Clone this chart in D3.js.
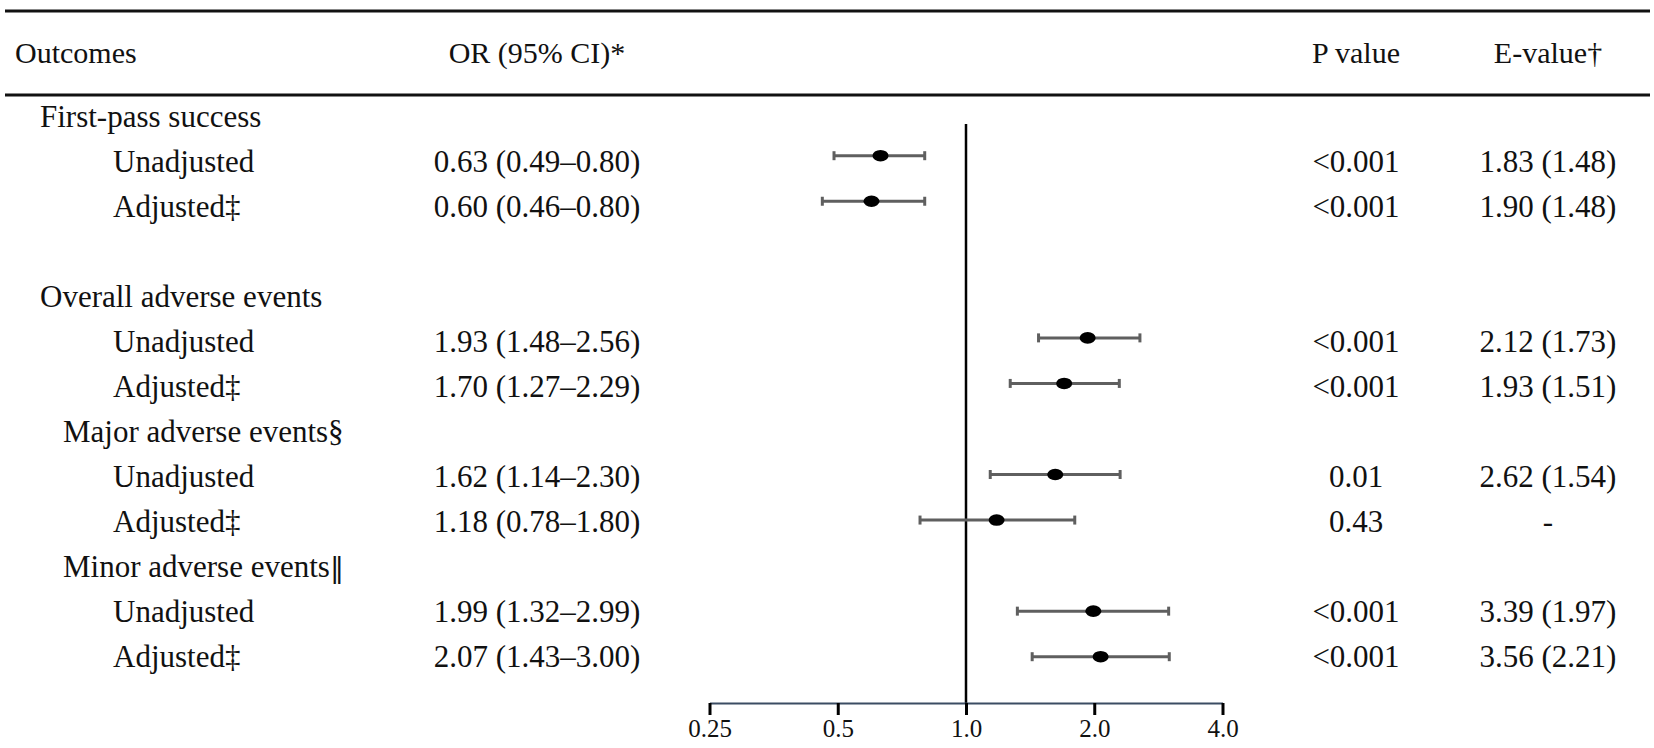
<!DOCTYPE html>
<html>
<head>
<meta charset="utf-8">
<script src="https://cdn.jsdelivr.net/npm/d3@7/dist/d3.min.js"></script>
<style>
  html, body { margin: 0; padding: 0; background: #fff; }
  svg text { font-family: 'Liberation Serif', 'Times New Roman', 'DejaVu Serif', serif; fill: #111; }
</style>
</head>
<body>
<div id="chart"></div>
<script>
// row labels, top to bottom (blank row between the two groups)
var rowLabels = ['First-pass success', 'Unadjusted', 'Adjusted\u2021', '',
  'Overall adverse events', 'Unadjusted', 'Adjusted\u2021',
  'Major adverse events\u00a7', 'Unadjusted', 'Adjusted\u2021',
  'Minor adverse events\u2016', 'Unadjusted', 'Adjusted\u2021'];
var rowLevels = [0, 2, 2, 0, 0, 2, 2, 1, 2, 2, 1, 2, 2];

// rows that carry an estimate
var estRows = [1, 2, 5, 6, 8, 9, 11, 12];
var orValues = [0.63, 0.60, 1.93, 1.70, 1.62, 1.18, 1.99, 2.07];
var ciLow = [0.49, 0.46, 1.48, 1.27, 1.14, 0.78, 1.32, 1.43];
var ciHigh = [0.80, 0.80, 2.56, 2.29, 2.30, 1.80, 2.99, 3.00];
var pValues = ['<0.001', '<0.001', '<0.001', '<0.001', '0.01', '0.43', '<0.001', '<0.001'];
var eValues = ['1.83 (1.48)', '1.90 (1.48)', '2.12 (1.73)', '1.93 (1.51)',
  '2.62 (1.54)', '-', '3.39 (1.97)', '3.56 (2.21)'];

var headers = ['Outcomes', 'OR (95% CI)*', 'P value', 'E-value\u2020'];
var tickValues = [0.25, 0.5, 1, 2, 4];
var tickLabels = ['0.25', '0.5', '1.0', '2.0', '4.0'];

var W = 1654, H = 748;
var fontSize = 31;
var indentX = [40, 63, 113];
var orColX = 537, pColX = 1356, eColX = 1548;

var svg = d3.select('#chart').append('svg')
  .attr('width', W)
  .attr('height', H);

// text rows and plotted rows sit on slightly different vertical scales
var textY = d3.scaleLinear().domain([0, 12]).range([126.7, 666.7]);
var plotY = d3.scaleLinear().domain([1, 12]).range([155.7, 656.7]);
var x = d3.scaleLog().base(2).domain([0.25, 4]).range([709.5, 1222.5]);
var axisY = 703;

/* rules */
svg.append('line')
  .attr('x1', 5).attr('x2', 1650)
  .attr('y1', 11).attr('y2', 11)
  .style('stroke', '#111').style('stroke-width', 3);
svg.append('line')
  .attr('x1', 5).attr('x2', 1650)
  .attr('y1', 95).attr('y2', 95)
  .style('stroke', '#111').style('stroke-width', 3);

/* header */
var headerX = [15, orColX, pColX, eColX];
var headerAnchor = ['start', 'middle', 'middle', 'middle'];
svg.selectAll('text.header')
  .data(headers)
  .enter().append('text')
  .attr('class', 'header')
  .attr('x', function(d, i) { return headerX[i]; })
  .attr('y', 63)
  .attr('text-anchor', function(d, i) { return headerAnchor[i]; })
  .attr('font-size', fontSize - 1)
  .text(function(d) { return d; });

/* row labels - the double bar mark has no glyph in the serif font, so it gets its own tspan */
svg.selectAll('text.label')
  .data(rowLabels)
  .enter().append('text')
  .attr('class', 'label')
  .attr('x', function(d, i) { return indentX[rowLevels[i]]; })
  .attr('y', function(d, i) { return textY(i); })
  .attr('font-size', fontSize)
  .each(function(d) {
    var t = d3.select(this);
    var k = d.indexOf('\u2016');
    if (k < 0) {
      t.text(d);
      return;
    }
    t.append('tspan').text(d.slice(0, k));
    t.append('tspan')
      .style('font-family', "'DejaVu Serif', serif")
      .attr('font-size', fontSize - 3)
      .text('\u2016');
  });

/* value columns */
var fmt = d3.format('.2f');
var est = estRows.map(function(r, i) {
  return { row: r, or: orValues[i], lo: ciLow[i], hi: ciHigh[i], p: pValues[i], e: eValues[i] };
});

svg.selectAll('text.or')
  .data(est)
  .enter().append('text')
  .attr('class', 'or')
  .attr('x', orColX)
  .attr('y', function(d) { return textY(d.row); })
  .attr('text-anchor', 'middle')
  .attr('font-size', fontSize)
  .text(function(d) { return fmt(d.or) + ' (' + fmt(d.lo) + '\u2013' + fmt(d.hi) + ')'; });

svg.selectAll('text.p')
  .data(est)
  .enter().append('text')
  .attr('class', 'p')
  .attr('x', pColX)
  .attr('y', function(d) { return textY(d.row); })
  .attr('text-anchor', 'middle')
  .attr('font-size', fontSize)
  .text(function(d) { return d.p; });

svg.selectAll('text.e')
  .data(est)
  .enter().append('text')
  .attr('class', 'e')
  .attr('x', eColX)
  .attr('y', function(d) { return textY(d.row); })
  .attr('text-anchor', 'middle')
  .attr('font-size', fontSize)
  .text(function(d) { return d.e; });

/* forest plot */
svg.append('line')
  .attr('x1', x(1)).attr('x2', x(1))
  .attr('y1', 124).attr('y2', axisY)
  .style('stroke', '#000').style('stroke-width', 2.5);

var ciColor = '#5f5f5f', capH = 9;
var ci = svg.selectAll('g.ci')
  .data(est)
  .enter().append('g')
  .attr('class', 'ci');

ci.append('line')
  .attr('x1', function(d) { return x(d.lo); })
  .attr('x2', function(d) { return x(d.hi); })
  .attr('y1', function(d) { return plotY(d.row); })
  .attr('y2', function(d) { return plotY(d.row); })
  .style('stroke', ciColor).style('stroke-width', 3);

ci.append('line')
  .attr('x1', function(d) { return x(d.lo); })
  .attr('x2', function(d) { return x(d.lo); })
  .attr('y1', function(d) { return plotY(d.row) - capH / 2; })
  .attr('y2', function(d) { return plotY(d.row) + capH / 2; })
  .style('stroke', ciColor).style('stroke-width', 3);

ci.append('line')
  .attr('x1', function(d) { return x(d.hi); })
  .attr('x2', function(d) { return x(d.hi); })
  .attr('y1', function(d) { return plotY(d.row) - capH / 2; })
  .attr('y2', function(d) { return plotY(d.row) + capH / 2; })
  .style('stroke', ciColor).style('stroke-width', 3);

ci.append('ellipse')
  .attr('cx', function(d) { return x(d.or); })
  .attr('cy', function(d) { return plotY(d.row); })
  .attr('rx', 8)
  .attr('ry', 5.8)
  .style('fill', '#000');

/* axis */
var axis = d3.axisBottom(x)
  .tickValues(tickValues)
  .tickFormat(function(d, i) { return tickLabels[i]; })
  .tickSize(12)
  .tickSizeOuter(0);

var gAxis = svg.append('g')
  .attr('transform', 'translate(0,' + axisY + ')')
  .call(axis);

gAxis.select('.domain')
  .style('stroke', '#3b4c63')
  .style('stroke-width', 2);
gAxis.selectAll('.tick line')
  .style('stroke', '#000')
  .style('stroke-width', 3);
gAxis.selectAll('.tick text')
  .attr('y', 34)
  .attr('dy', 0)
  .attr('font-size', 25)
  .style('font-family', "'Liberation Serif', 'Times New Roman', serif")
  .style('fill', '#111');
</script>
</body>
</html>
